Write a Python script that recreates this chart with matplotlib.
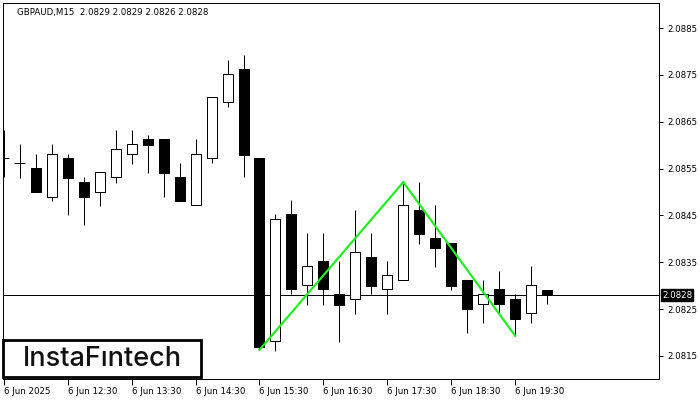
import matplotlib
matplotlib.use("Agg")
import matplotlib.pyplot as plt
from matplotlib.patches import Rectangle
from matplotlib.transforms import blended_transform_factory

# ---- data ----
opens = [2.08573, 2.08562, 2.08551, 2.08489, 2.08573, 2.08521, 2.08500, 2.08532,
         2.08581, 2.08613, 2.08613, 2.08532, 2.08472, 2.08573, 2.08692, 2.08763,
         2.08573, 2.08182, 2.08453, 2.08302, 2.08353, 2.08282, 2.08272, 2.08361,
         2.08293, 2.08312, 2.08462, 2.08402, 2.08391, 2.08312, 2.08261, 2.08293,
         2.08272, 2.08242, 2.0829]
highs = [2.08632, 2.08602, 2.08581, 2.08602, 2.08581, 2.08532, 2.08543, 2.08632,
         2.08632, 2.08622, 2.08613, 2.08562, 2.08613, 2.08703, 2.08782, 2.08792,
         2.08573, 2.08453, 2.08483, 2.08413, 2.08413, 2.08353, 2.08462, 2.08413,
         2.08353, 2.08521, 2.08521, 2.08472, 2.08391, 2.08312, 2.08312, 2.08331,
         2.08282, 2.08342, 2.0829]
lows = [2.08532, 2.08530, 2.08500, 2.08481, 2.08451, 2.08430, 2.08470, 2.08519,
        2.08560, 2.08541, 2.08489, 2.08481, 2.08472, 2.08562, 2.08681, 2.08532,
        2.08165, 2.08161, 2.08282, 2.08259, 2.08259, 2.08180, 2.08240, 2.08282,
        2.08240, 2.08312, 2.08389, 2.08340, 2.08291, 2.08199, 2.08221, 2.08242,
        2.08193, 2.08221, 2.0826]
closes = [2.08573, 2.08562, 2.08500, 2.08581, 2.08530, 2.08489, 2.08543, 2.08592,
          2.08602, 2.08600, 2.08541, 2.08481, 2.08581, 2.08703, 2.08752, 2.08579,
          2.08169, 2.08442, 2.08293, 2.08342, 2.08293, 2.08259, 2.08372, 2.08299,
          2.08323, 2.08472, 2.08410, 2.08381, 2.08299, 2.08250, 2.08282, 2.08261,
          2.08229, 2.08302, 2.0828]

pattern_idx = [16, 25, 32]
pattern_price = [2.08163, 2.08521, 2.08193]

current_price = 2.0828
title_text = "GBPAUD,M15  2.0829 2.0829 2.0826 2.0828"

xtick_idx = [0, 4, 8, 12, 16, 20, 24, 28, 32]
xtick_labels = ["6 Jun 2025", "6 Jun 12:30", "6 Jun 13:30", "6 Jun 14:30",
                "6 Jun 15:30", "6 Jun 16:30", "6 Jun 17:30", "6 Jun 18:30",
                "6 Jun 19:30"]
yticks = [2.0815, 2.0825, 2.0835, 2.0845, 2.0855, 2.0865, 2.0875, 2.0885]

# ---- figure ----
W, H = 700, 400
fig = plt.figure(figsize=(7, 4), dpi=100)
ax = fig.add_axes([3 / W, (H - 379) / H, (659 - 3) / W, (379 - 3) / H])
px = 0.72  # one pixel in points

n = len(opens)
xs = list(range(n))
body_w = 0.625

# wicks
ax.vlines(xs, lows, highs, color="black", lw=px, zorder=2)
# bodies
for i in xs:
    o, c = opens[i], closes[i]
    bottom = min(o, c)
    height = abs(c - o)
    fc = "white" if c > o else "black"
    if c == o:
        ax.hlines(o, i - body_w / 2 - 0.03, i + body_w / 2 + 0.03,
                  color="black", lw=px, zorder=3)
    else:
        ax.add_patch(Rectangle((i - body_w / 2, bottom), body_w, height,
                               facecolor=fc, edgecolor="black", lw=px, zorder=3))

# current price line
ax.axhline(current_price, color="black", lw=px, zorder=1)

# double top pattern
ax.plot(pattern_idx, pattern_price, color="#22ee22", lw=1.6, zorder=5,
        solid_joinstyle="miter")

ax.set_xlim(-0.05, 41.0)
ax.set_ylim(2.081009, 2.089034)

for s in ax.spines.values():
    s.set_linewidth(px)
    s.set_color("black")

ax.yaxis.tick_right()
ax.set_yticks(yticks)
ax.set_yticklabels([f"{v:.4f}" for v in yticks])
ax.tick_params(axis="y", direction="out", length=3, width=px, pad=3,
               labelsize=6.2, colors="black")
ax.set_xticks(xtick_idx)
ax.set_xticklabels(xtick_labels, ha="left")
ax.tick_params(axis="x", direction="out", length=4, width=px, pad=2,
               labelsize=6.2, colors="black")
for lab in ax.get_xticklabels():
    lab.set_horizontalalignment("left")

# current price label on the axis
trans = blended_transform_factory(ax.transAxes, ax.transData)
ax.text(1.0045, current_price, f"{current_price:.4f}", transform=trans,
        ha="left", va="center", fontsize=6.2, color="white", zorder=10,
        bbox=dict(boxstyle="square,pad=0.15", facecolor="black", edgecolor="black"),
        clip_on=False)

# title
fig.text(17 / W, 1 - 12 / H, title_text, ha="left", va="center",
         fontsize=6.2, color="black")

# logo
fig.patches.append(Rectangle((3 / W, (H - 377) / H), 198 / W, 37 / H,
                             transform=fig.transFigure, facecolor="white",
                             edgecolor="black", lw=2.0, zorder=20))
fig.text(102 / W, 1 - 359 / H, "InstaFıntech", ha="center", va="center",
         fontsize=19.5, family="Inter", weight="medium", color="#111111", zorder=21)

fig.savefig("out.png", dpi=100)
